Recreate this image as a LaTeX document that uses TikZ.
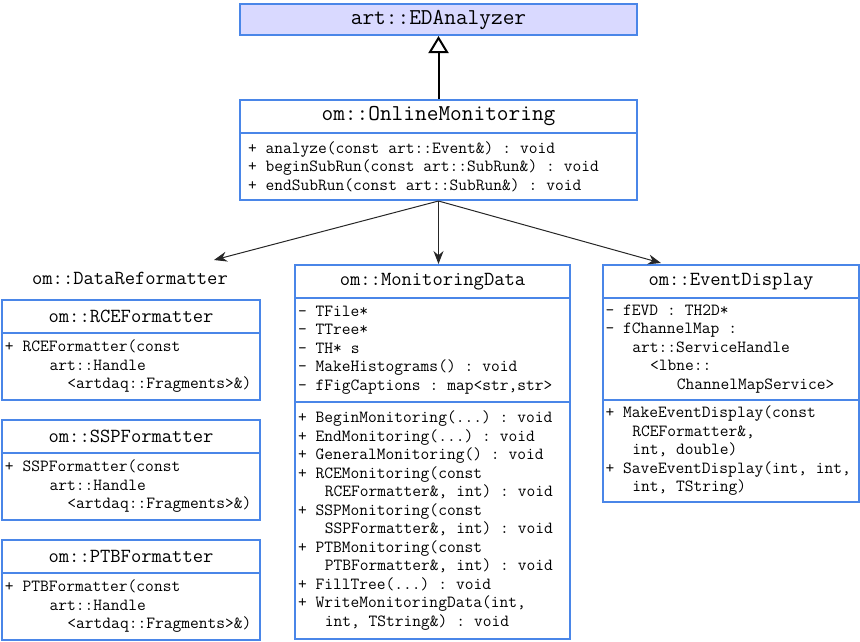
\documentclass[tikz,border=0pt]{standalone}
\usepackage{tikz}
\usetikzlibrary{arrows.meta}
\definecolor{umlblue}{RGB}{74,134,232}
\definecolor{umlfill}{RGB}{217,217,255}
\newcommand{\pad}[1]{\hspace*{#1\dimexpr0.525em\relax}}
\newcommand{\mono}[2]{\ttfamily\fontsize{#1}{#2}\selectfont\frenchspacing}
\tikzset{
  box/.style={draw=umlblue,line width=2pt,anchor=north west,inner sep=0pt},
  head/.style={box,font=\mono{20}{20}},
  bighead/.style={box,font=\mono{22.7}{22.7}},
  grouptitle/.style={inner sep=0pt,font=\mono{20}{20}},
  members/.style={box,align=left,inner xsep=3pt,text width=#1,font=\mono{17}{18.5},
    execute at begin node={\spaceskip=0.525em\xspaceskip=0.525em\relax}},
  inherit/.style={line width=2pt,-{Triangle[open,width=20pt,length=17pt]}},
  assoc/.style={line width=1pt,black!85,-{Stealth[length=13pt,width=10pt]}}
}
\begin{document}
\begin{tikzpicture}[x=1pt,y=-1pt]
  \useasboundingbox (0,0) rectangle (860,641);
  \node[bighead,fill=umlfill,minimum width=397pt,minimum height=31pt] (eda) at (239,3) {art::EDAnalyzer};
  \node[bighead,minimum width=397pt,minimum height=33pt] (omt) at (239,99) {om::OnlineMonitoring};
  \node[members=381pt,inner xsep=8pt,minimum width=397pt,minimum height=67pt] (omb) at (239,132)
    {+ analyze(const art::Event\&) : void\\+ beginSubRun(const art::SubRun\&) : void\\+ endSubRun(const art::SubRun\&) : void};

  \node[grouptitle] (dr) at (130,278) {om::DataReformatter};
  \coordinate (drin) at (214,260);

  \node[head,minimum width=258pt,minimum height=33pt] (rcet) at (1,299) {om::RCEFormatter};
  \node[members=252pt,minimum width=258pt,minimum height=67pt] (rceb) at (1,332)
    {+ RCEFormatter(const\\\pad{5}art::Handle\\\pad{7}<artdaq::Fragments>\&)};
  \node[head,minimum width=258pt,minimum height=33pt] (sspt) at (1,419) {om::SSPFormatter};
  \node[members=252pt,minimum width=258pt,minimum height=67pt] (sspb) at (1,452)
    {+ SSPFormatter(const\\\pad{5}art::Handle\\\pad{7}<artdaq::Fragments>\&)};
  \node[head,minimum width=258pt,minimum height=33pt] (ptbt) at (1,539) {om::PTBFormatter};
  \node[members=252pt,minimum width=258pt,minimum height=67pt] (ptbb) at (1,572)
    {+ PTBFormatter(const\\\pad{5}art::Handle\\\pad{7}<artdaq::Fragments>\&)};

  \node[head,minimum width=275pt,minimum height=33pt] (mdt) at (294,264) {om::MonitoringData};
  \node[members=269pt,minimum width=275pt,minimum height=104pt] (mda) at (294,297)
    {- TFile*\\- TTree*\\- TH* s\\- MakeHistograms() : void\\- fFigCaptions : map<str,str>};
  \node[members=269pt,minimum width=275pt,minimum height=237pt] (mdm) at (294,401)
    {+ BeginMonitoring(...) : void\\+ EndMonitoring(...) : void\\+ GeneralMonitoring() : void\\%
     + RCEMonitoring(const\\\pad{3}RCEFormatter\&, int) : void\\%
     + SSPMonitoring(const\\\pad{3}SSPFormatter\&, int) : void\\%
     + PTBMonitoring(const\\\pad{3}PTBFormatter\&, int) : void\\%
     + FillTree(...) : void\\+ WriteMonitoringData(int,\\\pad{3}int, TString\&) : void};

  \node[head,minimum width=256pt,minimum height=33pt] (edt) at (602,264) {om::EventDisplay};
  \coordinate (edin) at (661,263);
  \node[members=251pt,inner xsep=2.5pt,minimum width=256pt,minimum height=102pt] (eda2) at (602,297)
    {- fEVD : TH2D*\\- fChannelMap :\\\pad{3}art::ServiceHandle\\\pad{5}<lbne::\\\pad{8}ChannelMapService>};
  \node[members=251pt,inner xsep=2.5pt,minimum width=256pt,minimum height=102pt] (edm) at (602,399)
    {+ MakeEventDisplay(const\\\pad{3}RCEFormatter\&,\\\pad{3}int, double)\\+ SaveEventDisplay(int, int,\\\pad{3}int, TString)};

  \draw[inherit] (omt.north) -- (eda.south);
  \draw[assoc] (omb.south) -- (drin);
  \draw[assoc] (omb.south) -- (omb.south |- mdt.north);
  \draw[assoc] (omb.south) -- (edin);
\end{tikzpicture}
\end{document}
